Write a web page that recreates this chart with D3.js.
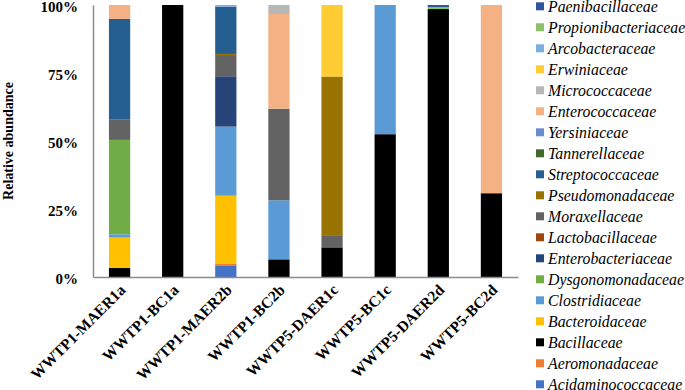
<!DOCTYPE html>
<html>
<head>
<meta charset="utf-8">
<script src="https://cdn.jsdelivr.net/npm/d3@7"></script>
<style>
  body { margin: 0; background: #fff; }
  svg text { font-family: "Times New Roman", "Liberation Serif", "DejaVu Serif", serif; }
</style>
</head>
<body>
<svg id="chart" width="685" height="390"></svg>
<script>
// samples along the x axis
const samples = ['WWTP1-MAER1a', 'WWTP1-BC1a', 'WWTP1-MAER2b', 'WWTP1-BC2b',
                 'WWTP5-DAER1c', 'WWTP5-BC1c', 'WWTP5-DAER2d', 'WWTP5-BC2d'];

// families in stacking order, bottom to top
const families = ['Acidaminococcaceae', 'Aeromonadaceae', 'Bacillaceae', 'Bacteroidaceae',
                  'Clostridiaceae', 'Dysgonomonadaceae', 'Enterobacteriaceae', 'Lactobacillaceae',
                  'Moraxellaceae', 'Pseudomonadaceae', 'Streptococcaceae', 'Tannerellaceae',
                  'Yersiniaceae', 'Enterococcaceae', 'Micrococcaceae', 'Erwiniaceae',
                  'Arcobacteraceae', 'Propionibacteriaceae', 'Paenibacillaceae'];

const familyColors = ['#4472C4', '#ED7D31', '#000000', '#FFC000',
                      '#5B9BD5', '#70AD47', '#264478', '#9E480E',
                      '#636363', '#997300', '#255E91', '#43682B',
                      '#698ED0', '#F4B183', '#B7B7B7', '#FFCD33',
                      '#7CAFDD', '#8CC168', '#2F55A0'];

// relative abundance (%) per family, one value per sample
const abundance = [
    [0,    0,   4.3,  0,    0,    0,    0,    0],    // Acidaminococcaceae
    [0,    0,   0.5,  0,    0,    0,    0,    0],    // Aeromonadaceae
    [3.3,  100, 0,    6.5,  10.9, 52.5, 98.5, 30.8], // Bacillaceae
    [11.2, 0,   25.1, 0,    0,    0,    0,    0],    // Bacteroidaceae
    [1.2,  0,   25.4, 21.7, 0,    47.5, 0,    0],    // Clostridiaceae
    [34.7, 0,   0,    0,    0,    0,    0,    0],    // Dysgonomonadaceae
    [0,    0,   18.5, 0,    0,    0,    0,    0],    // Enterobacteriaceae
    [0,    0,   0,    0,    0,    0,    0,    0],    // Lactobacillaceae
    [7.6,  0,   7.8,  33.7, 4.2,  0,    0,    0],    // Moraxellaceae
    [0,    0,   0.4,  0,    58.6, 0,    0,    0],    // Pseudomonadaceae
    [36.9, 0,   17.4, 0,    0,    0,    0,    0],    // Streptococcaceae
    [0,    0,   0,    0,    0,    0,    0,    0],    // Tannerellaceae
    [0,    0,   0,    0,    0,    0,    0,    0],    // Yersiniaceae
    [5.1,  0,   0,    34.8, 0,    0,    0,    69.2], // Enterococcaceae
    [0,    0,   0,    3.3,  0,    0,    0,    0],    // Micrococcaceae
    [0,    0,   0,    0,    26.3, 0,    0,    0],    // Erwiniaceae
    [0,    0,   0.6,  0,    0,    0,    0,    0],    // Arcobacteraceae
    [0,    0,   0,    0,    0,    0,    0.7,  0],    // Propionibacteriaceae
    [0,    0,   0,    0,    0,    0,    0.8,  0]     // Paenibacillaceae
];

const yTicks = [0, 25, 50, 75, 100];

const serif = '"Times New Roman", "Liberation Serif", "DejaVu Serif", serif';
const margin = {top: 5, left: 93};
const plotWidth = 425;
const plotHeight = 272;
const axisColor = '#8C8C8C';

const svg = d3.select('#chart');

// build rows for d3.stack
const rows = samples.map((s, i) => {
    let row = {sample: s};
    families.forEach((f, j) => { row[f] = abundance[j][i]; });
    return row;
});
const series = d3.stack().keys(families)(rows);

const x = d3.scaleBand()
    .domain(samples)
    .range([0, plotWidth])
    .paddingInner(0.6)
    .paddingOuter(0.3);

const y = d3.scaleLinear()
    .domain([0, 100])
    .range([plotHeight, 0]);

const color = d3.scaleOrdinal().domain(families).range(familyColors);

const g = svg.append('g')
    .attr('transform', `translate(${margin.left}, ${margin.top})`);

// bars
g.append('g')
    .classed('bars', true)
  .selectAll('g')
    .data(series)
  .join('g')
    .attr('fill', d => color(d.key))
  .selectAll('rect')
    .data(d => d.filter(v => v[1] - v[0] > 0))
  .join('rect')
    .attr('x', d => x(d.data.sample))
    .attr('y', d => y(d[1]))
    .attr('width', x.bandwidth())
    .attr('height', d => y(d[0]) - y(d[1]));

// y axis
const yAxis = g.append('g')
    .call(d3.axisLeft(y).tickValues(yTicks).tickSize(0).tickPadding(15).tickFormat(d => d + '%'));
yAxis.attr('font-family', serif);
yAxis.select('.domain').attr('stroke', axisColor).attr('stroke-width', 1.5);
yAxis.selectAll('text')
    .attr('font-size', 15)
    .attr('font-weight', 'bold')
    .attr('fill', '#000')
    .attr('dy', '0.45em');

// x axis
const xAxis = g.append('g')
    .attr('transform', `translate(0, ${plotHeight})`)
    .call(d3.axisBottom(x).tickSize(0).tickPadding(0));
xAxis.attr('font-family', serif);
xAxis.select('.domain').attr('stroke', axisColor).attr('stroke-width', 1.5);
xAxis.selectAll('text')
    .attr('font-size', 15.5)
    .attr('font-weight', 'bold')
    .attr('fill', '#000')
    .attr('text-anchor', 'end')
    .attr('dy', 0)
    .attr('transform', 'translate(7, 14) rotate(-45)');

// y title
svg.append('text')
    .attr('transform', `translate(13, ${margin.top + 136}) rotate(-90)`)
    .attr('text-anchor', 'middle')
    .attr('font-family', serif)
    .attr('font-size', 14)
    .attr('font-weight', 'bold')
    .text('Relative abundance');

// legend, top entry is the last series
const legendItems = families.slice().reverse();
const legend = svg.append('g')
    .attr('transform', 'translate(536, 6.3)')
  .selectAll('g')
    .data(legendItems)
  .join('g')
    .attr('transform', (d, i) => `translate(0, ${i * 21})`);

legend.append('rect')
    .attr('x', 0)
    .attr('y', -4)
    .attr('width', 8)
    .attr('height', 8)
    .attr('fill', d => color(d));

legend.append('text')
    .attr('x', 12)
    .attr('y', 0)
    .attr('dy', '0.38em')
    .attr('font-family', serif)
    .attr('font-size', 15.8)
    .attr('font-style', 'italic')
    .text(d => d);
</script>
</body>
</html>
